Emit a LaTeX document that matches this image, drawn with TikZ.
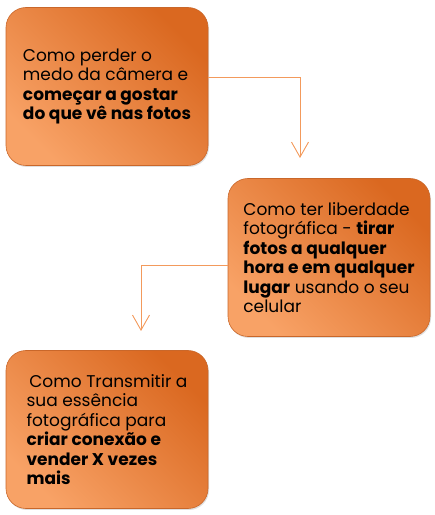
\documentclass[tikz,border=0pt]{standalone}
\usepackage{fontspec}
\setmainfont{Poppins}
\usepackage{xcolor}
\usepackage{tikz}
\usetikzlibrary{positioning,arrows.meta,shadows}

\definecolor{boxlight}{HTML}{F8A266}
\definecolor{boxdark}{HTML}{DA6820}
\definecolor{boxrim}{HTML}{C9672A}
\definecolor{linkorange}{HTML}{F39A5C}

\begin{document}
\begin{tikzpicture}[x=1pt, y=1pt,
    every node/.style={font=\fontsize{17}{19.5}\selectfont},
    topicbox/.style={rectangle, rounded corners=20pt, minimum width=202pt,
        minimum height=158pt, align=left, draw=boxrim, line width=0.6pt,
        top color=boxdark, bottom color=boxlight, shading angle=-45,
        drop shadow={shadow xshift=1pt, shadow yshift=-1.5pt, opacity=0.25}},
    link/.style={linkorange, line width=0.9pt,
        -{Straight Barb[length=15pt, width=17pt, line width=0.9pt]}}]
    \useasboundingbox (0,0) rectangle (435,515);
    \node[topicbox] (camera) at (107,428.5) {Como perder o\\medo da câmera e\\\textbf{começar a gostar}\\\textbf{do que vê nas fotos}}; % step 1
    \node[topicbox] (liberdade) at (329,257.5) {Como ter liberdade\\fotográfica - \textbf{tirar}\\\textbf{fotos a qualquer}\\\textbf{hora e em qualquer}\\\textbf{lugar} usando o seu\\celular}; % step 2
    \node[topicbox] (essencia) at (107,85.5) {\,Como Transmitir a\\sua essência\\fotográfica para\\\textbf{criar conexão e}\\\textbf{vender X vezes}\\\textbf{mais}}; % step 3
    \coordinate (tip1) at (300,357);
    \coordinate (tip2) at (141,184);
    \draw[link] ([yshift=9.5pt]camera.east) -| (tip1);
    \draw[link] ([yshift=-7.5pt]liberdade.west) -| (tip2);
\end{tikzpicture}
\end{document}
